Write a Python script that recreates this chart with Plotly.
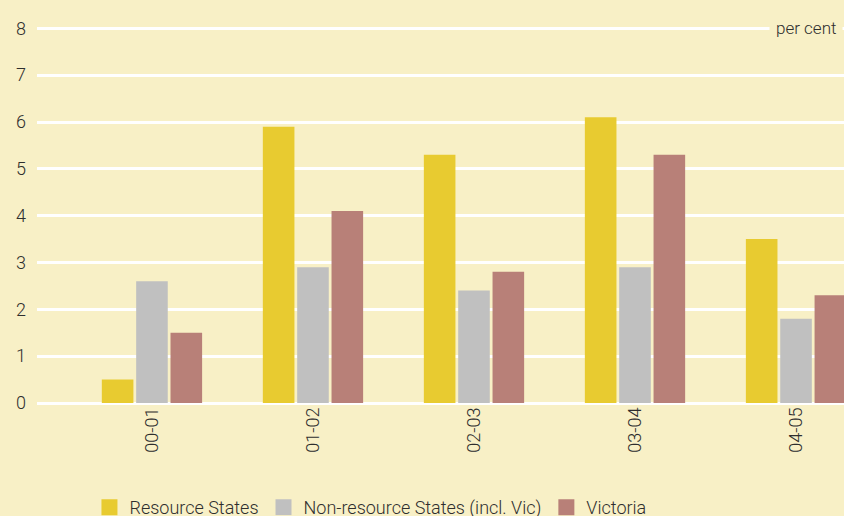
import plotly.graph_objects as go

# ── Data ─────────────────────────────────────────────────────────────────
years = ["00-01", "01-02", "02-03", "03-04", "04-05"]
resource_states = [0.5, 5.9, 5.3, 6.1, 3.5]
non_resource_states = [2.6, 2.9, 2.4, 2.9, 1.8]
victoria = [1.5, 4.1, 2.8, 5.3, 2.3]

# ── Colours ──────────────────────────────────────────────────────────────
BG = "#F8F0C6"
YELLOW = "#E8CB30"
GREY = "#C0C0C0"
ROSE = "#B88078"
TEXT = "#2E2E2E"
FONT = "Roboto"

series = [
    ("Resource States", resource_states, YELLOW),
    ("Non-resource States (incl. Vic)", non_resource_states, GREY),
    ("Victoria", victoria, ROSE),
]

fig = go.Figure()
for name, vals, col in series:
    fig.add_trace(go.Bar(name=name, x=years, y=vals, showlegend=False,
                         marker=dict(color=col, line_width=0)))
# legend entries with larger square swatches
for name, vals, col in series:
    fig.add_trace(go.Scatter(name=name, x=[None], y=[None], mode="markers",
                             marker=dict(symbol="square", size=17, color=col)))

fig.update_layout(
    width=844, height=516,
    paper_bgcolor=BG, plot_bgcolor=BG,
    font=dict(family=FONT, color=TEXT, size=18, weight=300),
    margin=dict(l=37, r=0, t=26, b=113, autoexpand=False),
    barmode="group", bargap=0.36, bargroupgap=0.08,
    showlegend=True,
    legend=dict(orientation="h", x=0.065, xanchor="left", y=-0.277, yanchor="middle",
                font=dict(size=18, color=TEXT), bgcolor="rgba(0,0,0,0)",
                itemwidth=30, tracegroupgap=0),
    annotations=[dict(
        x=1, y=8, xref="paper", yref="y", xanchor="right", yanchor="middle",
        text="per cent", showarrow=False, bgcolor=BG, xshift=-1,
        font=dict(size=17, color=TEXT), borderpad=6,
    )],
)

fig.update_xaxes(type="category", range=[-0.714, 4.298], tickangle=-90, showgrid=False,
                 showline=False, ticks="", automargin=False,
                 tickfont=dict(size=18, color=TEXT))
fig.update_yaxes(range=[0, 8.05], dtick=1, showgrid=True, gridcolor="white", gridwidth=2.5,
                 zeroline=True, zerolinecolor="white", zerolinewidth=2.5,
                 ticks="", ticklabelstandoff=10, automargin=False,
                 tickfont=dict(size=18, color=TEXT))

fig.write_html("out.html", config={"displayModeBar": False},
               post_script="document.body.style.margin='0';")
